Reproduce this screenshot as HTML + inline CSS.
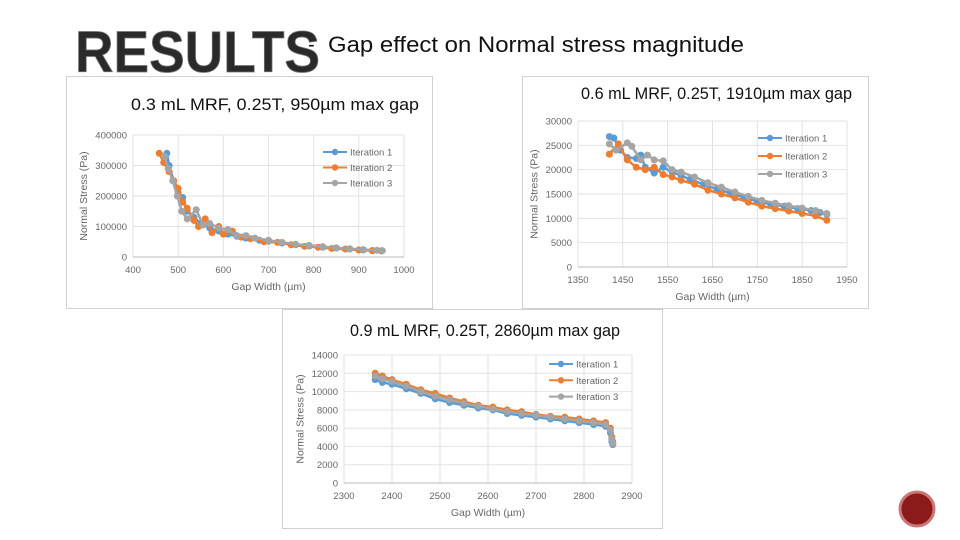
<!DOCTYPE html>
<html><head><meta charset="utf-8"><style>
html,body{margin:0;padding:0;background:#fff;}
svg{display:block;font-family:"Liberation Sans",sans-serif;}
</style></head><body>
<svg id="s" width="960" height="540" viewBox="0 0 960 540">
<text x="75" y="72" font-size="58" font-weight="bold" textLength="245" lengthAdjust="spacingAndGlyphs" fill="#2a2a2a" stroke="#777" stroke-width="0.8">RESULTS</text>
<text x="308" y="51" font-size="20" fill="#111">-</text>
<text x="328" y="52" font-size="22" textLength="416" lengthAdjust="spacingAndGlyphs" fill="#111">Gap effect on Normal stress magnitude</text>
<rect x="66.5" y="76.5" width="366" height="232" fill="#fff" stroke="#d0d0d0"/>
<rect x="522.5" y="76.5" width="346" height="232" fill="#fff" stroke="#d0d0d0"/>
<rect x="282.5" y="309.5" width="380" height="219" fill="#fff" stroke="#d0d0d0"/>
<text x="131" y="110" font-size="17" textLength="288" lengthAdjust="spacingAndGlyphs" fill="#111">0.3 mL MRF, 0.25T, 950µm max gap</text>
<text x="581" y="99" font-size="17" textLength="271" lengthAdjust="spacingAndGlyphs" fill="#111">0.6 mL MRF, 0.25T, 1910µm max gap</text>
<text x="350" y="336" font-size="17" textLength="270" lengthAdjust="spacingAndGlyphs" fill="#111">0.9 mL MRF, 0.25T, 2860µm max gap</text>
<circle cx="917" cy="509" r="17" fill="#8b1a1a" stroke="#c77" stroke-width="3"/>
<g id="charts"></g>
</svg>
<script>
// Chart 1 data (x in µm, y in kPa)
const c1x1=[475,480,490,500,510,520,535,550,570,590,610,630,650,680,700,730,760,790,820,850,880,910,930,950];
const c1y1=[340,300,250,210,195,150,130,110,95,85,75,68,62,55,52,46,40,36,32,29,26,23,21,20];
const c1x2=[458,468,480,490,500,510,520,535,545,560,575,590,600,620,640,660,690,720,750,780,810,840,870,900,930,950];
const c1y2=[340,310,280,250,225,180,160,120,100,125,80,100,75,85,65,60,50,48,40,35,32,28,26,23,21,20];
const c1x3=[470,478,488,498,508,520,540,555,570,590,610,630,650,670,700,730,760,790,820,850,880,910,940,952];
const c1y3=[330,290,250,200,150,125,155,105,110,95,90,70,70,62,55,48,42,38,34,30,27,24,22,21];
const c1ticksX=[400,500,600,700,800,900,1000];
const c1ticksY=[0,100000,200000,300000,400000];
// Chart 2 data
const c2x1=[1420,1430,1445,1460,1480,1490,1500,1520,1540,1560,1580,1600,1630,1660,1690,1720,1750,1780,1810,1840,1870,1890,1905];
const c2y1=[26.8,26.5,24,22.5,22.3,23,20.5,19.3,20.5,19.5,18.8,18,17,16,15.2,14.3,13.5,12.9,12.5,12,11.6,11.2,10.8];
const c2x2=[1420,1440,1460,1480,1500,1520,1540,1560,1580,1610,1640,1670,1700,1730,1760,1790,1820,1850,1880,1905];
const c2y2=[23.2,25.3,22,20.5,20,20.5,19,18.5,17.8,17,15.8,15,14.2,13.3,12.5,12,11.5,11,10.5,9.6];
const c2x3=[1420,1435,1460,1470,1490,1505,1520,1540,1560,1580,1610,1640,1670,1700,1730,1760,1790,1820,1850,1880,1905];
const c2y3=[25.3,24,25.5,24.8,22,23,22,21.8,20,19.5,18.5,17.3,16.4,15.4,14.5,13.7,13.1,12.6,12.1,11.6,11];
const c2ticksX=[1350,1450,1550,1650,1750,1850,1950];
const c2ticksY=[0,5000,10000,15000,20000,25000,30000];
// Chart 3 data
const c3x1=[2365,2380,2400,2430,2460,2490,2520,2550,2580,2610,2640,2670,2700,2730,2760,2790,2820,2845,2855,2858,2860];
const c3y1=[11.3,11,10.8,10.3,9.8,9.2,8.8,8.5,8.2,8,7.6,7.4,7.2,7,6.8,6.6,6.4,6.2,5.5,4.5,4.2];
const c3x2=[2365,2380,2400,2430,2460,2490,2520,2550,2580,2610,2640,2670,2700,2730,2760,2790,2820,2845,2855,2858,2860];
const c3y2=[12,11.7,11.3,10.8,10.2,9.8,9.3,8.9,8.5,8.3,8,7.8,7.5,7.3,7.2,7,6.8,6.6,6,5,4.5];
const c3x3=[2365,2380,2400,2430,2460,2490,2520,2550,2580,2610,2640,2670,2700,2730,2760,2790,2820,2845,2855,2858,2860];
const c3y3=[11.7,11.4,11.1,10.6,10,9.5,9.1,8.7,8.4,8.1,7.8,7.6,7.4,7.2,7,6.8,6.6,6.4,5.8,4.8,4.3];
const c3ticksX=[2300,2400,2500,2600,2700,2800,2900];
const c3ticksY=[0,2000,4000,6000,8000,10000,12000,14000];
const colors=['#5b9bd5','#ed7d31','#a5a5a5'];
const NS='http://www.w3.org/2000/svg';
const root=document.getElementById('charts');
function mk(t,a,p){const e=document.createElementNS(NS,t);for(const k in a)e.setAttribute(k,a[k]);(p||root).appendChild(e);return e;}
function chart(id,L,R,T,B,tx,ty,series,yScale,leg,fs){
  const x0=tx[0],x1=tx[tx.length-1],y0=ty[0],y1=ty[ty.length-1];
  const sx=v=>L+(v-x0)/(x1-x0)*(R-L);
  const sy=v=>B-(v-y0)/(y1-y0)*(B-T);
  const g=mk('g',{});
  
  
  tx.forEach(v=>{mk('line',{x1:sx(v),x2:sx(v),y1:T,y2:B,stroke:'#e2e2e2'},g);
    const t=mk('text',{x:sx(v),y:B+16,'font-size':fs,'text-anchor':'middle',fill:'#666'},g);t.textContent=v;
    
    });
  ty.forEach(v=>{mk('line',{x1:L,x2:R,y1:sy(v),y2:sy(v),stroke:'#e2e2e2'},g);
    const t=mk('text',{x:L-6,y:sy(v)+3.5,'font-size':fs,'text-anchor':'end',fill:'#666'},g);t.textContent=v;
    
    });
  mk('line',{x1:L,x2:R,y1:B,y2:B,stroke:'#bbb'},g);
  const xt=mk('text',{x:(L+R)/2,y:B+33,'font-size':fs+1,'text-anchor':'middle',fill:'#666'},g);xt.textContent='Gap Width (µm)';
  
  
  const yc=(T+B)/2,yx=L-(String(y1).length*fs*0.56)-14;
  const yt=mk('text',{x:yx,y:yc,'font-size':fs+1,'text-anchor':'middle',fill:'#666',transform:`rotate(-90 ${yx} ${yc})`},g);yt.textContent='Normal Stress (Pa)';
  
  
  series.forEach((s,i)=>{
    const pts=s[0].map((v,j)=>sx(v)+','+sy(s[1][j]*yScale)).join(' ');
    const pl=mk('polyline',{points:pts,fill:'none',stroke:colors[i],'stroke-width':2.5},g);
    
    
    s[0].forEach((v,j)=>{const c=mk('circle',{cx:sx(v),cy:sy(s[1][j]*yScale),r:3.5,fill:colors[i]},g);
      
      });
    const ly=leg[1]+i*leg[2];
    const ll=mk('line',{x1:leg[0],x2:leg[0]+24,y1:ly,y2:ly,stroke:colors[i],'stroke-width':2},g);
    
    
    mk('circle',{cx:leg[0]+12,cy:ly,r:3.2,fill:colors[i]},g);
    const lt=mk('text',{x:leg[0]+27,y:ly+3.5,'font-size':fs,fill:'#666'},g);lt.textContent='Iteration '+(i+1);
    
    
  });
}
chart('chart-1',133,404,135,257,c1ticksX,c1ticksY,[[c1x1,c1y1],[c1x2,c1y2],[c1x3,c1y3]],1000,[323,152,15.5],9.5);
chart('chart-2',578,847,121,267,c2ticksX,c2ticksY,[[c2x1,c2y1],[c2x2,c2y2],[c2x3,c2y3]],1000,[758,138,18],9.5);
chart('chart-3',344,632,355,483,c3ticksX,c3ticksY,[[c3x1,c3y1],[c3x2,c3y2],[c3x3,c3y3]],1000,[549,364,16.3],9.5);
</script>
</body></html>
